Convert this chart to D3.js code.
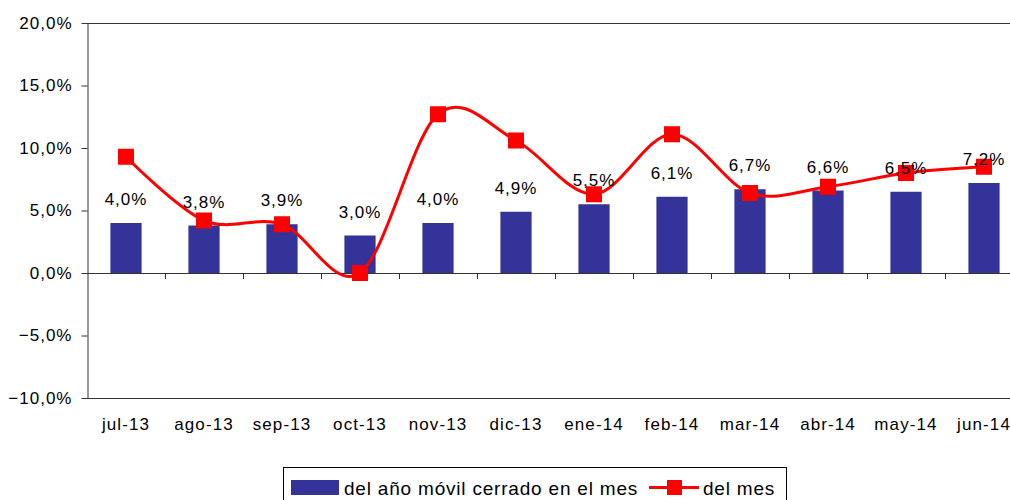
<!DOCTYPE html>
<html lang="es">
<head>
    <meta charset="UTF-8">
    <script src="https://cdnjs.cloudflare.com/ajax/libs/d3/7.8.5/d3.min.js"></script>
    <title>Variación anual</title>
    <style>
        body { margin: 0; background: #fff; }
        svg { display: block; font-family: "Liberation Sans", Arial, sans-serif; }
        .axis text { font-size: 17px; fill: #000; letter-spacing: 1px; }
        .axis--x text { letter-spacing: 1.1px; }
        .bar-label { font-size: 17px; fill: #000; letter-spacing: 1px; }
        .legend-text { font-size: 19px; fill: #000; letter-spacing: 0.8px; }
    </style>
</head>
<body>
    <script>
        const categories = ['jul-13', 'ago-13', 'sep-13', 'oct-13', 'nov-13', 'dic-13',
                            'ene-14', 'feb-14', 'mar-14', 'abr-14', 'may-14', 'jun-14'];
        // del año móvil cerrado en el mes (barras)
        const anualValues = [4.0, 3.8, 3.9, 3.0, 4.0, 4.9, 5.5, 6.1, 6.7, 6.6, 6.5, 7.2];
        // del mes (línea)
        const mesValues = [9.3, 4.2, 3.9, 0.0, 12.7, 10.6, 6.3, 11.1, 6.4, 6.9, 8.0, 8.5];
        const yTicks = [-10, -5, 0, 5, 10, 15, 20];
        const legendLabels = ['del año móvil cerrado en el mes', 'del mes'];

        const width = 1010;
        const height = 500;
        const plotLeft = 87;
        const plotRight = 1023;
        const plotTop = 23;
        const plotBottom = 398;

        const colorBar = '#333399';
        const colorLine = '#FF0000';
        const colorAxis = '#333';
        const markerSize = 16;

        const es = d3.formatLocale({ decimal: ',', thousands: '.', grouping: [3], currency: ['', '€'] });
        const fmt = function(v) { return es.format('.1f')(v) + '%'; };

        const svg = d3.select('body').append('svg')
            .attr('width', width)
            .attr('height', height);

        const x = d3.scaleBand()
            .domain(categories)
            .range([plotLeft, plotRight])
            .paddingInner(0.6)
            .paddingOuter(0.3);

        const y = d3.scaleLinear()
            .domain([yTicks[0], yTicks[yTicks.length - 1]])
            .range([plotBottom, plotTop]);

        const step = x.step();
        const gap = (step - x.bandwidth()) / 2;

        // рамка области построения
        svg.append('line')
            .attr('x1', plotLeft).attr('x2', plotRight)
            .attr('y1', y(20) + 0.5).attr('y2', y(20) + 0.5)
            .attr('stroke', colorAxis);
        svg.append('line')
            .attr('x1', plotLeft).attr('x2', plotRight)
            .attr('y1', y(-10) + 0.5).attr('y2', y(-10) + 0.5)
            .attr('stroke', colorAxis);

        // ось Y
        const yAxis = d3.axisLeft(y)
            .tickValues(yTicks)
            .tickSize(6)
            .tickSizeOuter(0)
            .tickPadding(9)
            .tickFormat(fmt);

        svg.append('g')
            .attr('class', 'axis axis--y')
            .attr('transform', 'translate(' + (plotLeft + 0.5) + ',0)')
            .call(yAxis);

        // подписи категорий
        const xAxis = d3.axisBottom(x).tickSize(0).tickSizeOuter(0);
        const gx = svg.append('g')
            .attr('class', 'axis axis--x')
            .attr('transform', 'translate(0,' + y(-10) + ')')
            .call(xAxis);
        gx.select('.domain').remove();
        gx.selectAll('text').attr('y', 20);

        svg.selectAll('.axis path, .axis line').attr('stroke', colorAxis);

        // бары
        svg.selectAll('.bar')
            .data(anualValues)
            .enter()
            .append('rect')
            .attr('class', 'bar')
            .attr('x', function(d, i) { return x(categories[i]); })
            .attr('width', x.bandwidth())
            .attr('y', function(d) { return y(d); })
            .attr('height', function(d) { return y(0) - y(d); })
            .attr('fill', colorBar);

        // линия нуля с засечками
        svg.append('line')
            .attr('x1', plotLeft).attr('x2', plotRight)
            .attr('y1', y(0) + 0.5).attr('y2', y(0) + 0.5)
            .attr('stroke', colorAxis);
        svg.selectAll('.zero-tick')
            .data(categories.slice(1))
            .enter()
            .append('line')
            .attr('class', 'zero-tick')
            .attr('x1', function(d) { return Math.round(x(d) - gap) + 0.5; })
            .attr('x2', function(d) { return Math.round(x(d) - gap) + 0.5; })
            .attr('y1', y(0))
            .attr('y2', y(0) + 6)
            .attr('stroke', colorAxis);

        // линия
        const line = d3.line()
            .x(function(d, i) { return x(categories[i]) + x.bandwidth() / 2; })
            .y(function(d) { return y(d); })
            .curve(d3.curveCatmullRom.alpha(0));

        svg.append('path')
            .datum(mesValues)
            .attr('fill', 'none')
            .attr('stroke', colorLine)
            .attr('stroke-width', 3)
            .attr('d', line);

        svg.selectAll('.marker')
            .data(mesValues)
            .enter()
            .append('rect')
            .attr('class', 'marker')
            .attr('x', function(d, i) { return x(categories[i]) + x.bandwidth() / 2 - markerSize / 2; })
            .attr('y', function(d) { return y(d) - markerSize / 2; })
            .attr('width', markerSize)
            .attr('height', markerSize)
            .attr('fill', colorLine);

        // подписи баров
        svg.selectAll('.bar-label')
            .data(anualValues)
            .enter()
            .append('text')
            .attr('class', 'bar-label')
            .attr('text-anchor', 'middle')
            .attr('x', function(d, i) { return x(categories[i]) + x.bandwidth() / 2; })
            .attr('y', function(d) { return y(d) - 18; })
            .text(fmt);

        // легенда
        const legend = svg.append('g').attr('transform', 'translate(283,467)');
        legend.append('rect')
            .attr('x', 0.5).attr('y', 0.5)
            .attr('width', 503).attr('height', 45)
            .attr('fill', '#fff')
            .attr('stroke', '#000');
        legend.append('rect')
            .attr('x', 8).attr('y', 13)
            .attr('width', 48).attr('height', 15)
            .attr('fill', colorBar);
        legend.append('text')
            .attr('class', 'legend-text')
            .attr('x', 61).attr('y', 28)
            .text(legendLabels[0]);
        legend.append('line')
            .attr('x1', 366).attr('x2', 416)
            .attr('y1', 20.5).attr('y2', 20.5)
            .attr('stroke', colorLine)
            .attr('stroke-width', 3);
        legend.append('rect')
            .attr('x', 384).attr('y', 13)
            .attr('width', 15).attr('height', 15)
            .attr('fill', colorLine);
        legend.append('text')
            .attr('class', 'legend-text')
            .attr('x', 420).attr('y', 28)
            .text(legendLabels[1]);
    </script>
</body>
</html>
